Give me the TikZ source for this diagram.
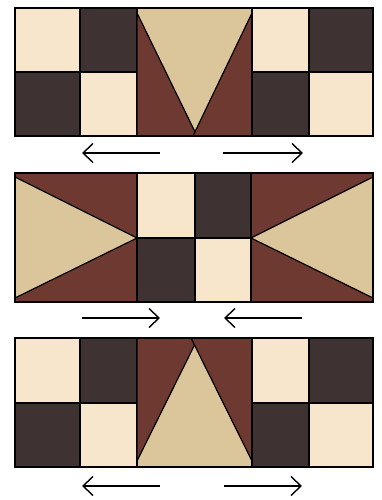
\documentclass[tikz,border=0pt]{standalone}
\usetikzlibrary{arrows.meta}
\definecolor{cream}{RGB}{247,230,204}
\definecolor{darkb}{RGB}{62,50,51}
\definecolor{brownr}{RGB}{110,57,49}
\definecolor{tan}{RGB}{219,197,155}
\tikzset{
  piece/.style={draw=black,line width=1.2pt,line join=round},
  cr/.style={piece,fill=cream},
  dk/.style={piece,fill=darkb},
  br/.style={piece,fill=brownr},
  tn/.style={piece,fill=tan},
  dirarrow/.style={line width=1.2pt,-{Straight Barb[length=10pt,width=19pt,line width=1.4pt]}}
}
\begin{document}
\begin{tikzpicture}[x=1pt,y=-1pt]
\useasboundingbox (0,0) rectangle (381,500);
% ---------- top row ----------
\draw[cr] (15,8) rectangle (80,72);
\draw[dk] (80,8) rectangle (137,72);
\draw[dk] (15,72) rectangle (80,136);
\draw[cr] (80,72) rectangle (137,136);
\draw[tn] (137,8) rectangle (252,136);
\draw[br] (137,13) -- (197,136) -- (137,136) -- cycle;
\draw[br] (252,13) -- (193,136) -- (252,136) -- cycle;
\draw[cr] (252,8) rectangle (309,72);
\draw[dk] (309,8) rectangle (373,72);
\draw[dk] (252,72) rectangle (309,136);
\draw[cr] (309,72) rectangle (373,136);
\draw[line width=1.4pt] (15,8) rectangle (373,136);
\coordinate (a1s) at (160,153); \coordinate (a1e) at (82,153);
\coordinate (a2s) at (223,153); \coordinate (a2e) at (303,153);
\draw[dirarrow] (a1s) -- (a1e);
\draw[dirarrow] (a2s) -- (a2e);
% ---------- middle row ----------
\draw[br] (15,173) rectangle (137,302);
\draw[tn] (15,177) -- (137,238) -- (15,298) -- cycle;
\draw[cr] (137,173) rectangle (195,238);
\draw[dk] (195,173) rectangle (251,238);
\draw[dk] (137,238) rectangle (195,302);
\draw[cr] (195,238) rectangle (251,302);
\draw[br] (251,173) rectangle (373,302);
\draw[tn] (373,177) -- (251,238) -- (373,298) -- cycle;
\draw[line width=1.4pt] (15,173) rectangle (373,302);
\coordinate (b1s) at (82,318); \coordinate (b1e) at (160,318);
\coordinate (b2s) at (302,318); \coordinate (b2e) at (224,318);
\draw[dirarrow] (b1s) -- (b1e);
\draw[dirarrow] (b2s) -- (b2e);
% ---------- bottom row ----------
\draw[cr] (15,338) rectangle (80,403);
\draw[dk] (80,338) rectangle (137,403);
\draw[dk] (15,403) rectangle (80,467);
\draw[cr] (80,403) rectangle (137,467);
\draw[tn] (137,338) rectangle (252,467);
\draw[br] (137,338) -- (198,338) -- (137,461) -- cycle;
\draw[br] (252,338) -- (191,338) -- (252,461) -- cycle;
\draw[cr] (252,338) rectangle (309,403);
\draw[dk] (309,338) rectangle (373,403);
\draw[dk] (252,403) rectangle (309,467);
\draw[cr] (309,403) rectangle (373,467);
\draw[line width=1.4pt] (15,338) rectangle (373,467);
\coordinate (c1s) at (160,486); \coordinate (c1e) at (82,486);
\coordinate (c2s) at (224,486); \coordinate (c2e) at (302,486);
\draw[dirarrow] (c1s) -- (c1e);
\draw[dirarrow] (c2s) -- (c2e);
\end{tikzpicture}
\end{document}
